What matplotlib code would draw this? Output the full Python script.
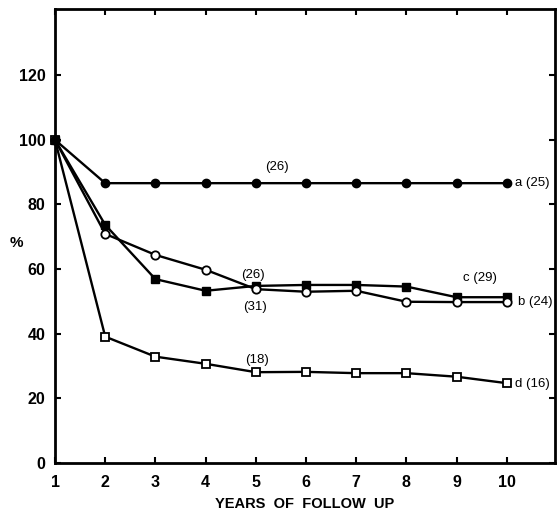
import matplotlib
matplotlib.use("Agg")
import matplotlib.pyplot as plt

plt.rcParams['font.family'] = ['Liberation Sans', 'DejaVu Sans']

years = [1, 2, 3, 4, 5, 6, 7, 8, 9, 10]
series_a = [100, 86.6, 86.6, 86.6, 86.6, 86.6, 86.6, 86.6, 86.6, 86.6]
series_b = [100, 70.9, 64.4, 59.8, 53.8, 53.0, 53.3, 49.9, 49.8, 49.8]
series_c = [100, 73.7, 56.9, 53.3, 54.8, 55.1, 55.1, 54.6, 51.3, 51.3]
series_d = [100, 39.1, 32.9, 30.7, 28.1, 28.2, 27.8, 27.8, 26.7, 24.7]

y_ticks = [0, 20, 40, 60, 80, 100, 120]
x_ticks = years

# annotation labels: (text, x, y, ha)
annotations = [
    ("(26)", 5.42, 91.6, "center"),
    ("a (25)", 10.16, 86.6, "left"),
    ("(26)", 4.95, 58.3, "center"),
    ("(31)", 4.98, 48.4, "center"),
    ("c (29)", 9.47, 57.2, "center"),
    ("b (24)", 10.22, 49.7, "left"),
    ("(18)", 5.02, 31.9, "center"),
    ("d (16)", 10.16, 24.4, "left"),
]

fig = plt.figure(figsize=(5.58, 5.15), dpi=100)
ax = fig.add_axes([0.0986, 0.101, 0.896, 0.8815])

lw = 1.7
ax.plot(years, series_c, '-', color='black', lw=lw, marker='s', ms=5.2,
        mfc='black', mec='black', zorder=3, clip_on=False)
ax.plot(years, series_b, '-', color='black', lw=lw, marker='o', ms=6,
        mfc='white', mec='black', mew=1.3, zorder=4, clip_on=False)
ax.plot(years, series_d, '-', color='black', lw=lw, marker='s', ms=5.2,
        mfc='white', mec='black', mew=1.3, zorder=4, clip_on=False)
ax.plot(years, series_a, '-', color='black', lw=lw, marker='o', ms=6,
        mfc='black', mec='black', zorder=5, clip_on=False)

for txt, x, y, ha in annotations:
    ax.text(x, y, txt, ha=ha, va='center', fontsize=9.5, color='black')

ax.set_xlim(1, 10.96)
ax.set_ylim(0, 140.5)
ax.set_xticks(x_ticks)
ax.set_yticks(y_ticks)
ax.set_xticklabels([str(v) for v in x_ticks], fontsize=11.5, fontweight='bold')
ax.set_yticklabels([str(v) for v in y_ticks], fontsize=11.5, fontweight='bold')
ax.tick_params(direction='in', top=True, right=True, length=4, width=1.5)
ax.tick_params(axis='x', pad=9)
ax.tick_params(axis='y', pad=7)
for s in ax.spines.values():
    s.set_linewidth(2)

ax.text(-0.078, 0.485, "%", transform=ax.transAxes, ha='center', va='center',
        fontsize=11, fontweight='bold')
ax.set_xlabel("YEARS  OF  FOLLOW  UP", fontsize=10.5,
              fontweight='bold', labelpad=5)

fig.savefig("out.png", dpi=100)
